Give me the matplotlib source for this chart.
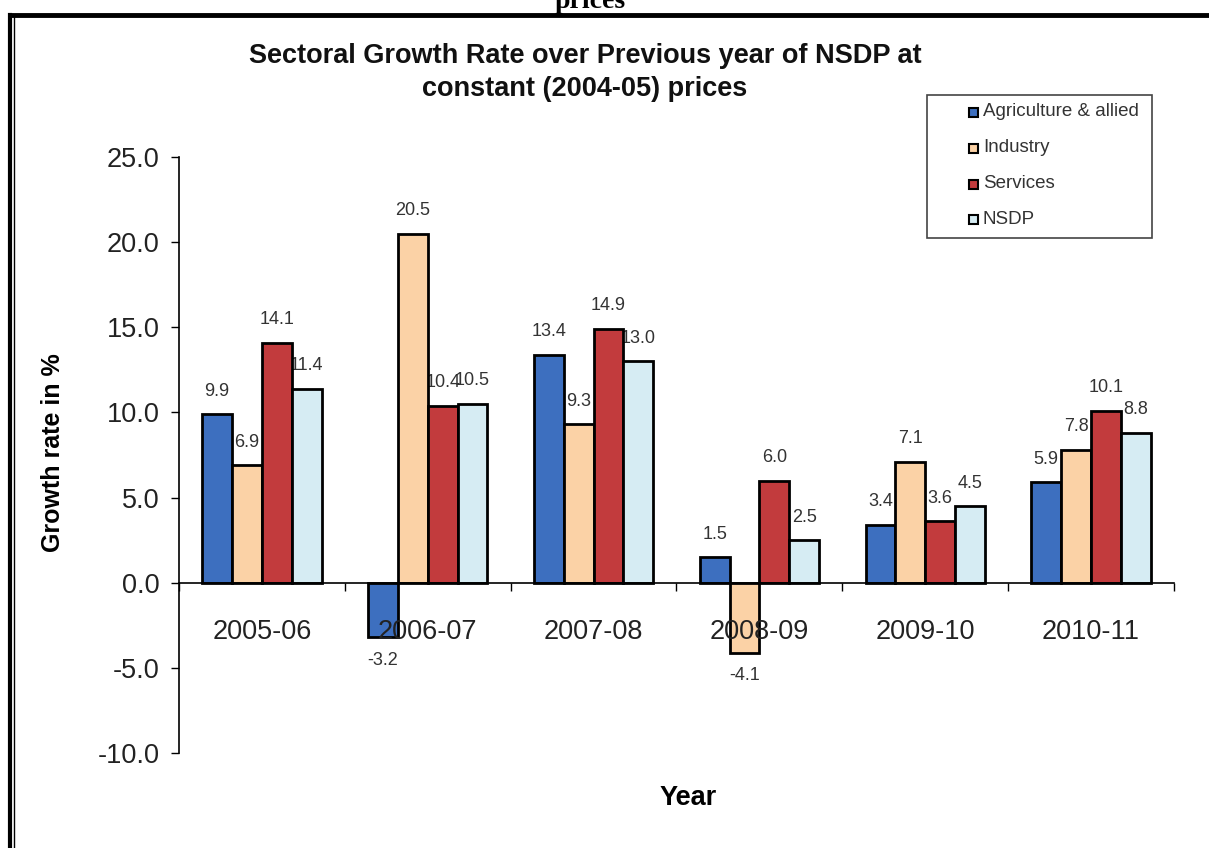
import matplotlib
matplotlib.use("Agg")
import matplotlib.pyplot as plt
import numpy as np
from matplotlib.patches import Rectangle
from matplotlib.lines import Line2D

years = ["2005-06", "2006-07", "2007-08", "2008-09", "2009-10", "2010-11"]
series_names = ["Agriculture & allied", "Industry", "Services", "NSDP"]
agriculture = [9.9, -3.2, 13.4, 1.5, 3.4, 5.9]
industry = [6.9, 20.5, 9.3, -4.1, 7.1, 7.8]
services = [14.1, 10.4, 14.9, 6.0, 3.6, 10.1]
nsdp = [11.4, 10.5, 13.0, 2.5, 4.5, 8.8]
yticks = [-10.0, -5.0, 0.0, 5.0, 10.0, 15.0, 20.0, 25.0]

series = [agriculture, industry, services, nsdp]
colors = ["#3d6fbf", "#fbd2a6", "#c23b3d", "#d6ecf3"]

plt.rcParams['font.family'] = ['Liberation Sans', 'DejaVu Sans']

W, H = 1209, 848
fig = plt.figure(figsize=(W / 100, H / 100), dpi=100)
fig.patch.set_facecolor("white")

ax = fig.add_axes([179 / W, 1 - 753 / H, (1174 - 179) / W, (753 - 157) / H])
ax.set_facecolor("none")

x = np.arange(len(years))
bw = 0.18
for i, (vals, c) in enumerate(zip(series, colors)):
    pos = x + (i - 1.5) * bw
    ax.bar(pos, vals, width=bw, color=c, edgecolor="black", linewidth=2, zorder=2)
    for p, v in zip(pos, vals):
        off = 1.35 if v >= 0 else -1.35
        ax.text(p, v + off, f"{v:.1f}", ha="center", va="center",
                fontsize=13, color="#333333", zorder=1)

ax.set_xlim(-0.5, len(years) - 0.5)
ax.set_ylim(-10, 25)
ax.set_yticks(yticks)
ax.set_yticklabels([f"{t:.1f}" for t in yticks])
ax.set_xticks(np.arange(len(years) + 1) - 0.5, minor=True)
ax.set_xticks(x)
ax.set_xticklabels(years)
ax.tick_params(axis="x", which="major", length=0, pad=26, labelsize=19.5,
               labelcolor="#222222")
ax.tick_params(axis="x", which="minor", length=6, direction="out", width=1)
ax.tick_params(axis="y", length=6, width=1, direction="out", pad=8,
               labelsize=19.5, labelcolor="#222222")
ax.xaxis.set_zorder(3)

for s in ["top", "right"]:
    ax.spines[s].set_visible(False)
ax.spines["bottom"].set_position(("data", 0))
ax.spines["bottom"].set_linewidth(1.2)
ax.spines["left"].set_linewidth(1.2)

fig.text(53 / W, 1 - 453 / H, "Growth rate in %", fontsize=18, fontweight="bold",
         rotation=90, ha="center", va="center")
fig.text(688 / W, 1 - 798 / H, "Year", fontsize=19.5, fontweight="bold",
         ha="center", va="center")

fig.text(585 / W, 1 - 56 / H, "Sectoral Growth Rate over Previous year of NSDP at",
         fontsize=19.5, fontweight="bold", ha="center", va="center", color="#111111")
fig.text(585 / W, 1 - 89 / H, "constant (2004-05) prices",
         fontsize=19.5, fontweight="bold", ha="center", va="center", color="#111111")

# top cut-off text from the page
fig.text(590 / W, 1 - 2 / H, "prices", fontsize=20, fontweight="bold",
         family="Liberation Serif", ha="center", va="center")

# frame lines
fig.add_artist(Line2D([10 / W, 1.0], [1 - 15 / H, 1 - 15 / H], color="black", lw=3.5))
fig.add_artist(Line2D([10 / W, 10 / W], [0, 1 - 15 / H], color="black", lw=3))
fig.add_artist(Line2D([14 / W, 14 / W], [0, 1 - 17 / H], color="black", lw=1))

# legend
lx0, ly0, lx1, ly1 = 927, 95, 1152, 238
fig.add_artist(Rectangle((lx0 / W, 1 - ly1 / H), (lx1 - lx0) / W, (ly1 - ly0) / H,
                         transform=fig.transFigure, facecolor="white",
                         edgecolor="#444444", lw=1.2))
for i, (name, c) in enumerate(zip(series_names, colors)):
    yc = 112 + i * 36
    fig.add_artist(Rectangle(((973 - 4.5) / W, 1 - (yc + 4.5) / H), 9 / W, 9 / H,
                             transform=fig.transFigure, facecolor=c,
                             edgecolor="black", lw=1.5))
    fig.text(983 / W, 1 - yc / H, name, fontsize=13.5, color="#333333",
             ha="left", va="center")

fig.savefig("out.png", dpi=100)
